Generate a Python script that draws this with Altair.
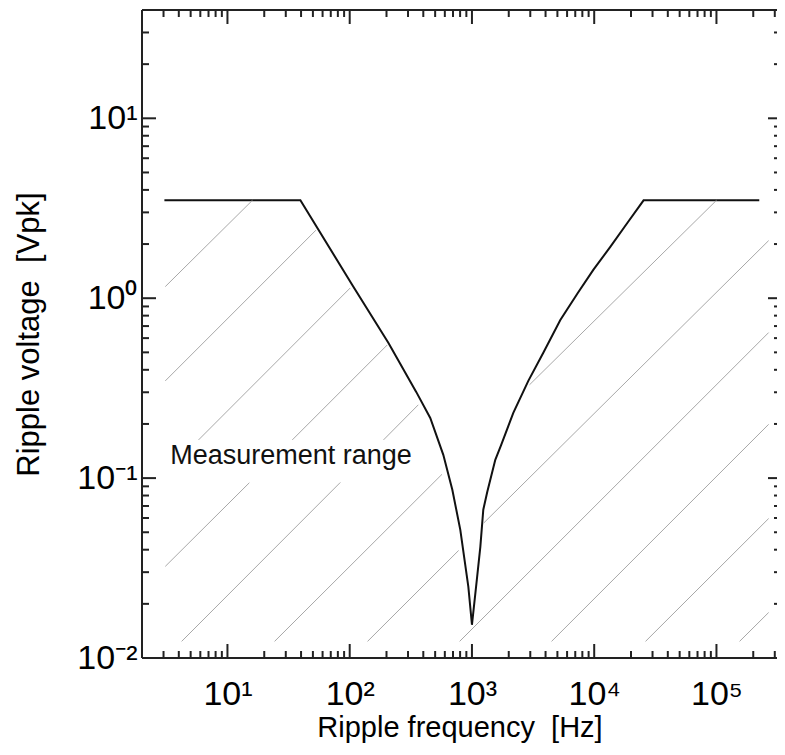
import altair as alt
import pandas as pd

# ---- data ----
curve_x = [3.05, 39.5, 105, 207, 350, 456, 583, 691, 803, 934, 1000,
           1096, 1171, 1238, 1335, 1552, 1722, 2179, 2891, 3834, 5282,
           7340, 9830, 13540, 18650, 25350, 224000]
curve_y = [3.5, 3.5, 1.185, 0.565, 0.3015, 0.216, 0.1347, 0.0861, 0.0516, 0.0249, 0.0153,
           0.0272, 0.0415, 0.0667, 0.0839, 0.1264, 0.151, 0.2306, 0.347, 0.497, 0.757,
           1.07, 1.436, 1.93, 2.62, 3.5, 3.5]

# hatch segments of the "measurement range" region
hatch_x1 = [3.1, 3.1, 5.8, 3.1, 33.9, 4.22, 189, 24.3, 2956, 140, 1245, 793, 4480, 26300, 154600]
hatch_y1 = [1.16, 0.347, 0.163, 0.0323, 0.163, 0.01237, 0.163, 0.01237, 0.33, 0.01237, 0.0562,
            0.01237, 0.01237, 0.01237, 0.01237]
hatch_x2 = [16, 53, 101, 15.1, 203, 83.8, 364, 569, 100000, 778, 267200, 267200, 267200, 267200, 267200]
hatch_y2 = [3.5, 2.39, 1.14, 0.0942, 0.55, 0.0946, 0.2555, 0.105, 3.5, 0.0396, 2.09, 0.644,
            0.199, 0.0596, 0.0179]

label_text = ["Measurement range"]
label_x = [3.4]
label_y = [0.12]

x_major = [10, 100, 1000, 10000, 100000]
x_major_labels = ["10¹", "10²", "10³", "10⁴", "10⁵"]
x_minor = [3, 4, 5, 6, 7, 8, 9,
           20, 30, 40, 50, 60, 70, 80, 90,
           200, 300, 400, 500, 600, 700, 800, 900,
           2000, 3000, 4000, 5000, 6000, 7000, 8000, 9000,
           20000, 30000, 40000, 50000, 60000, 70000, 80000, 90000,
           200000, 300000]
y_major = [0.01, 0.1, 1, 10]
y_major_labels = ["10⁻²", "10⁻¹", "10⁰", "10¹"]
y_minor = [0.02, 0.03, 0.04, 0.05, 0.06, 0.07, 0.08, 0.09,
           0.2, 0.3, 0.4, 0.5, 0.6, 0.7, 0.8, 0.9,
           2, 3, 4, 5, 6, 7, 8, 9,
           20, 30]

x_domain = [2, 312800]
y_domain = [0.01, 40]

W, H = 635, 648
FONT = "Liberation Sans, Arial, Helvetica, sans-serif"


def label_expr(values, labels):
    expr = "''"
    for v, l in reversed(list(zip(values, labels))):
        expr = f"datum.value == {v} ? '{l}' : ({expr})"
    return expr


xs = alt.Scale(type="log", domain=x_domain, nice=False, zero=False)
ys = alt.Scale(type="log", domain=y_domain, nice=False, zero=False)

curve_df = pd.DataFrame({"f": curve_x, "v": curve_y, "o": list(range(len(curve_x)))})
hatch_df = pd.DataFrame({"f": hatch_x1, "v": hatch_y1, "f2": hatch_x2, "v2": hatch_y2})
text_df = pd.DataFrame({"t": label_text, "f": label_x, "v": label_y})
xmaj_df = pd.DataFrame({"f": x_major})
xmin_df = pd.DataFrame({"f": x_minor})
ymaj_df = pd.DataFrame({"v": y_major})
ymin_df = pd.DataFrame({"v": y_minor})
one = pd.DataFrame({"k": [0]})

x_axis = alt.Axis(values=x_major, labelExpr=label_expr(x_major, x_major_labels),
                  ticks=False, tickSize=0, domain=False, grid=False,
                  labelFont=FONT, labelFontSize=34, labelColor="black", labelPadding=19,
                  title="Ripple frequency\u00a0 [Hz]", titleFont=FONT, titleFontSize=29,
                  titleFontWeight="normal", titleColor="black",
                  titleBaseline="alphabetic", titleY=78)
y_axis = alt.Axis(values=y_major, labelExpr=label_expr(y_major, y_major_labels),
                  ticks=False, tickSize=0, domain=False, grid=False,
                  labelFont=FONT, labelFontSize=34, labelColor="black", labelPadding=5,
                  title="Ripple voltage\u00a0 [Vpk]", titleFont=FONT, titleFontSize=31,
                  titleFontWeight="normal", titleColor="black", titlePadding=31)

X = lambda f="f:Q": alt.X(f, scale=xs, axis=x_axis)
Y = lambda f="v:Q": alt.Y(f, scale=ys, axis=y_axis)

hatch = alt.Chart(hatch_df).mark_rule(color="#a8a8a8", strokeWidth=1).encode(
    x=X(), x2="f2:Q", y=Y(), y2="v2:Q")

curve = alt.Chart(curve_df).mark_line(color="#111111", strokeWidth=2).encode(
    x=X(), y=Y(), order="o:Q")

text = alt.Chart(text_df).mark_text(align="left", baseline="alphabetic", font=FONT,
                                    fontSize=27, color="#111111").encode(
    x=X(), y=Y(), text="t:N")

tick_color = "#222222"
rule = dict(color=tick_color, strokeWidth=2)
left_major = alt.Chart(ymaj_df).mark_rule(**rule).encode(y=Y(), x=alt.value(0), x2=alt.value(14))
left_minor = alt.Chart(ymin_df).mark_rule(**rule).encode(y=Y(), x=alt.value(0), x2=alt.value(7))
right_major = alt.Chart(ymaj_df).mark_rule(**rule).encode(y=Y(), x=alt.value(W - 9), x2=alt.value(W))
right_minor = alt.Chart(ymin_df).mark_rule(**rule).encode(y=Y(), x=alt.value(W - 3), x2=alt.value(W))
bottom_major = alt.Chart(xmaj_df).mark_rule(**rule).encode(x=X(), y=alt.value(H), y2=alt.value(H - 14))
bottom_minor = alt.Chart(xmin_df).mark_rule(**rule).encode(x=X(), y=alt.value(H), y2=alt.value(H - 7))
top_major = alt.Chart(xmaj_df).mark_rule(**rule).encode(x=X(), y=alt.value(0), y2=alt.value(14))
top_minor = alt.Chart(xmin_df).mark_rule(**rule).encode(x=X(), y=alt.value(0), y2=alt.value(7))

spine_left = alt.Chart(one).mark_rule(**rule).encode(x=alt.value(0), y=alt.value(0), y2=alt.value(H))
spine_top = alt.Chart(one).mark_rule(**rule).encode(y=alt.value(0), x=alt.value(0), x2=alt.value(W))
spine_bottom = alt.Chart(one).mark_rule(**rule).encode(y=alt.value(H), x=alt.value(0), x2=alt.value(W))

chart = alt.layer(
    curve, hatch, text,
    left_major, left_minor, right_major, right_minor,
    bottom_major, bottom_minor, top_major, top_minor,
    spine_left, spine_top, spine_bottom,
).properties(
    width=W, height=H,
    autosize=alt.AutoSizeParams(type="none"),
    padding={"left": 134, "top": 2, "right": 0, "bottom": 85},
).configure_view(stroke=None).configure(background="white")

chart.save("out.html", embed_options={"renderer": "svg", "actions": False})
